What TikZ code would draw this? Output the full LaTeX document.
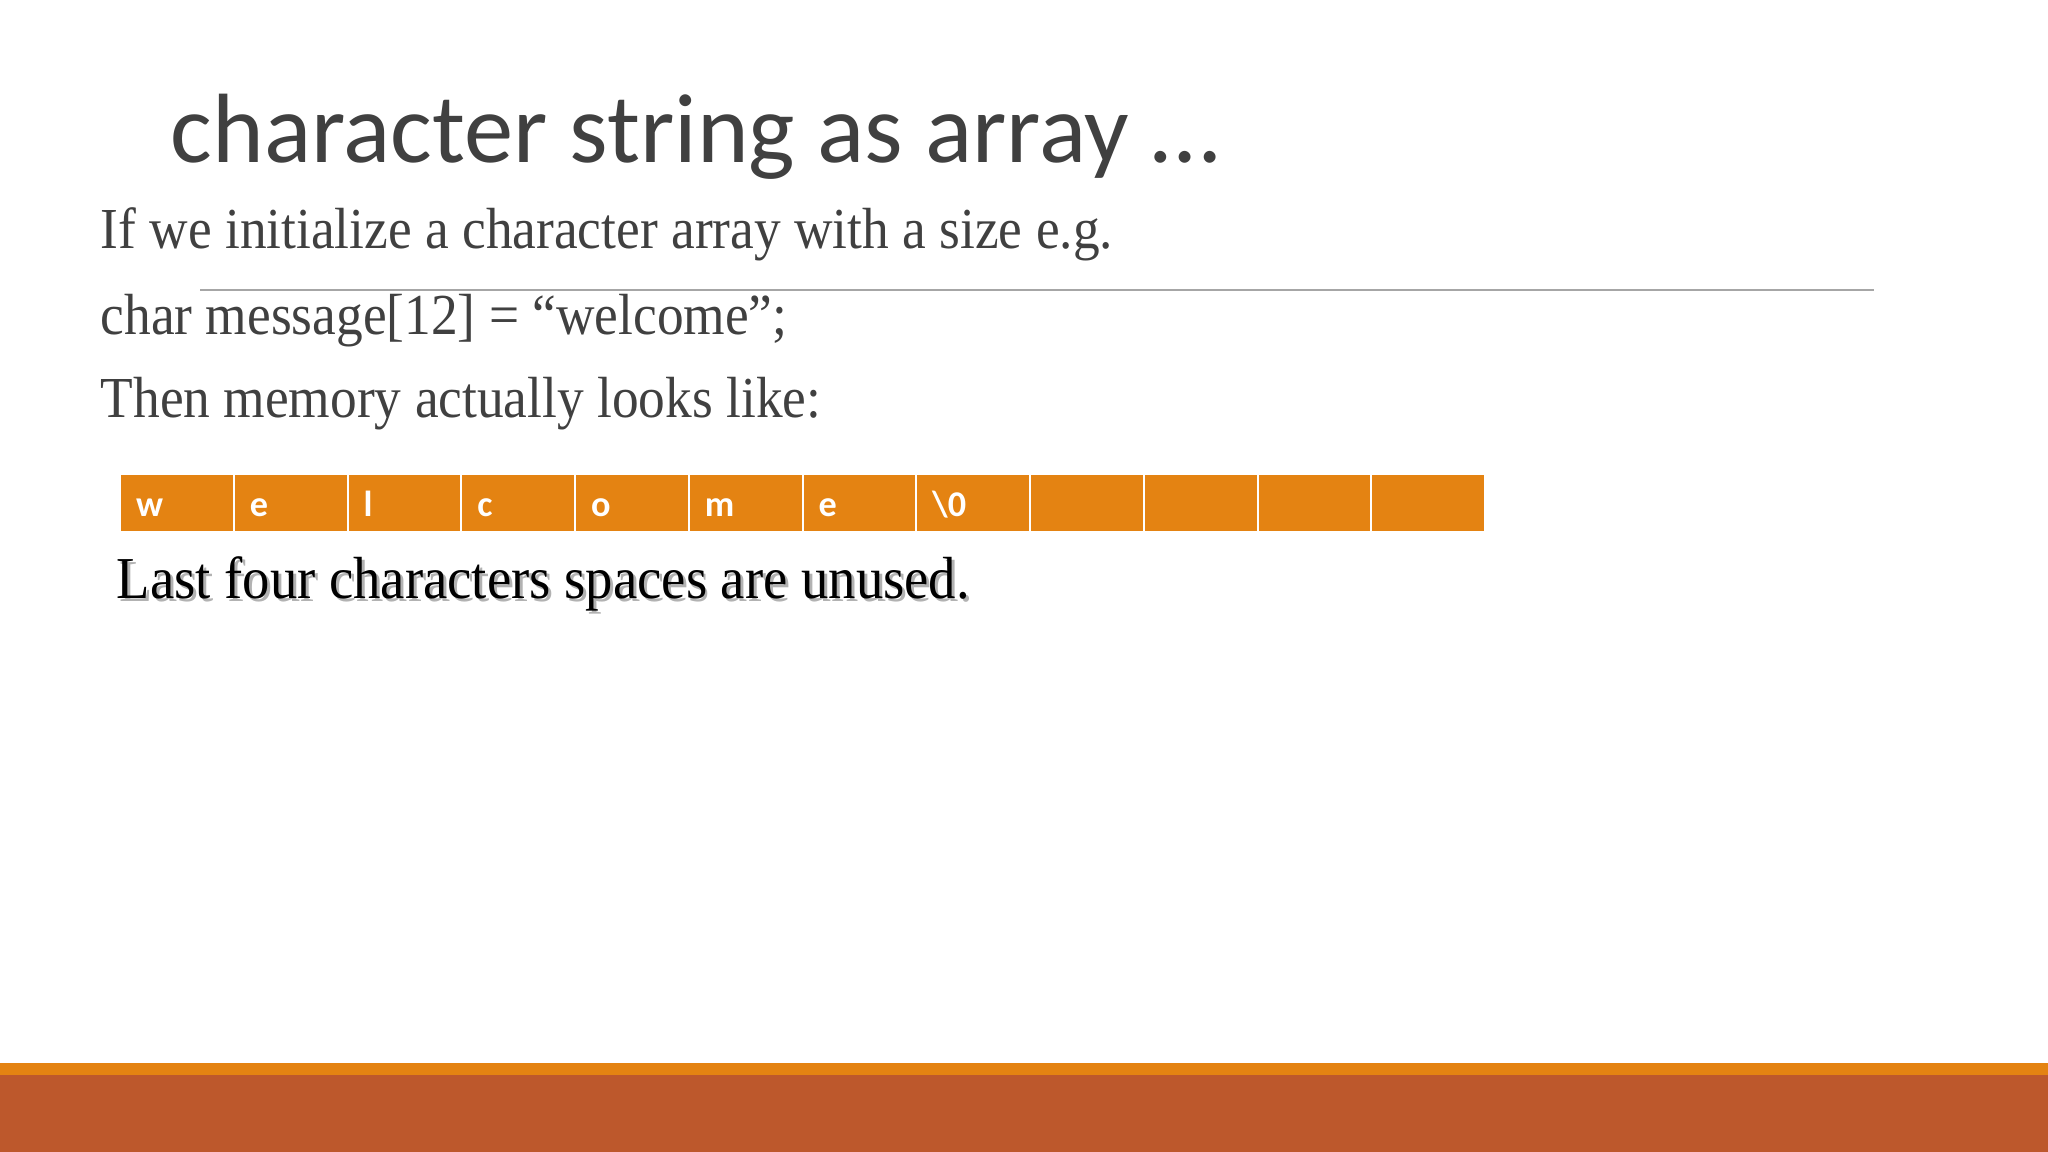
\documentclass[tikz,border=0pt]{standalone}
\usepackage{fontspec}
\setmainfont[FakeStretch=0.92]{Liberation Serif}
\newfontfamily\titlefont{Carlito}
\usetikzlibrary{positioning}
\definecolor{slidegray}{HTML}{404040}
\definecolor{cellorange}{HTML}{E48312}
\definecolor{barrust}{HTML}{BD582C}
\definecolor{rulegray}{HTML}{A6A6A6}

\begin{document}
\begin{tikzpicture}[x=0.01cm,y=-0.01cm,
        cell/.style={fill=cellorange, draw=white, line width=0.02cm, outer sep=0pt,
            minimum width=1.137cm, minimum height=0.58cm, inner xsep=0.16cm, inner ysep=0pt,
            text width=0.817cm, align=left, text height=0.26cm, text depth=0cm,
            text=white, font=\titlefont\bfseries\fontsize{10.3}{12}\selectfont},
        body/.style={anchor=base west, inner sep=0pt, text=slidegray,
            font=\fontsize{16.5}{20}\selectfont}]
        \useasboundingbox (0,0) rectangle (2048,1152);

        % Title
        \node[body, font=\titlefont\fontsize{28}{32}\selectfont] (title) at (170,163) {character string as array \dots};

        % Text lines
        \node[body] (line1) at (100,249) {If we initialize a character array with a size e.g.};
        \draw[rulegray, line width=0.02cm] (200,290) -- (1874,290);
        \node[body] (line2) at (100,335) {char message[12] = “welcome”;};
        \node[body] (line3) at (100,418) {Then memory actually looks like:};

        % Memory cells
        \node[cell, anchor=north west] (c1) at (120,474) {w};
        \node[cell, right=0pt of c1] (c2) {e};
        \node[cell, right=0pt of c2] (c3) {l};
        \node[cell, right=0pt of c3] (c4) {c};
        \node[cell, right=0pt of c4] (c5) {o};
        \node[cell, right=0pt of c5] (c6) {m};
        \node[cell, right=0pt of c6] (c7) {e};
        \node[cell, right=0pt of c7] (c8) {\textbackslash 0};
        \node[cell, right=0pt of c8] (c9) {};
        \node[cell, right=0pt of c9] (c10) {};
        \node[cell, right=0pt of c10] (c11) {};
        \node[cell, right=0pt of c11] (c12) {};

        % Note with shadow
        \node[body, text=black!30, font=\fontsize{16.9}{20}\selectfont] (noteshadow) at (119,601) {Last four characters spaces are unused.};
        \node[body, text=black, font=\fontsize{16.9}{20}\selectfont] (note) at (116,598) {Last four characters spaces are unused.};

        % Bottom bars
        \fill[cellorange] (0,1063) rectangle (2048,1075);
        \fill[barrust] (0,1075) rectangle (2048,1152);
    \end{tikzpicture}
\end{document}
